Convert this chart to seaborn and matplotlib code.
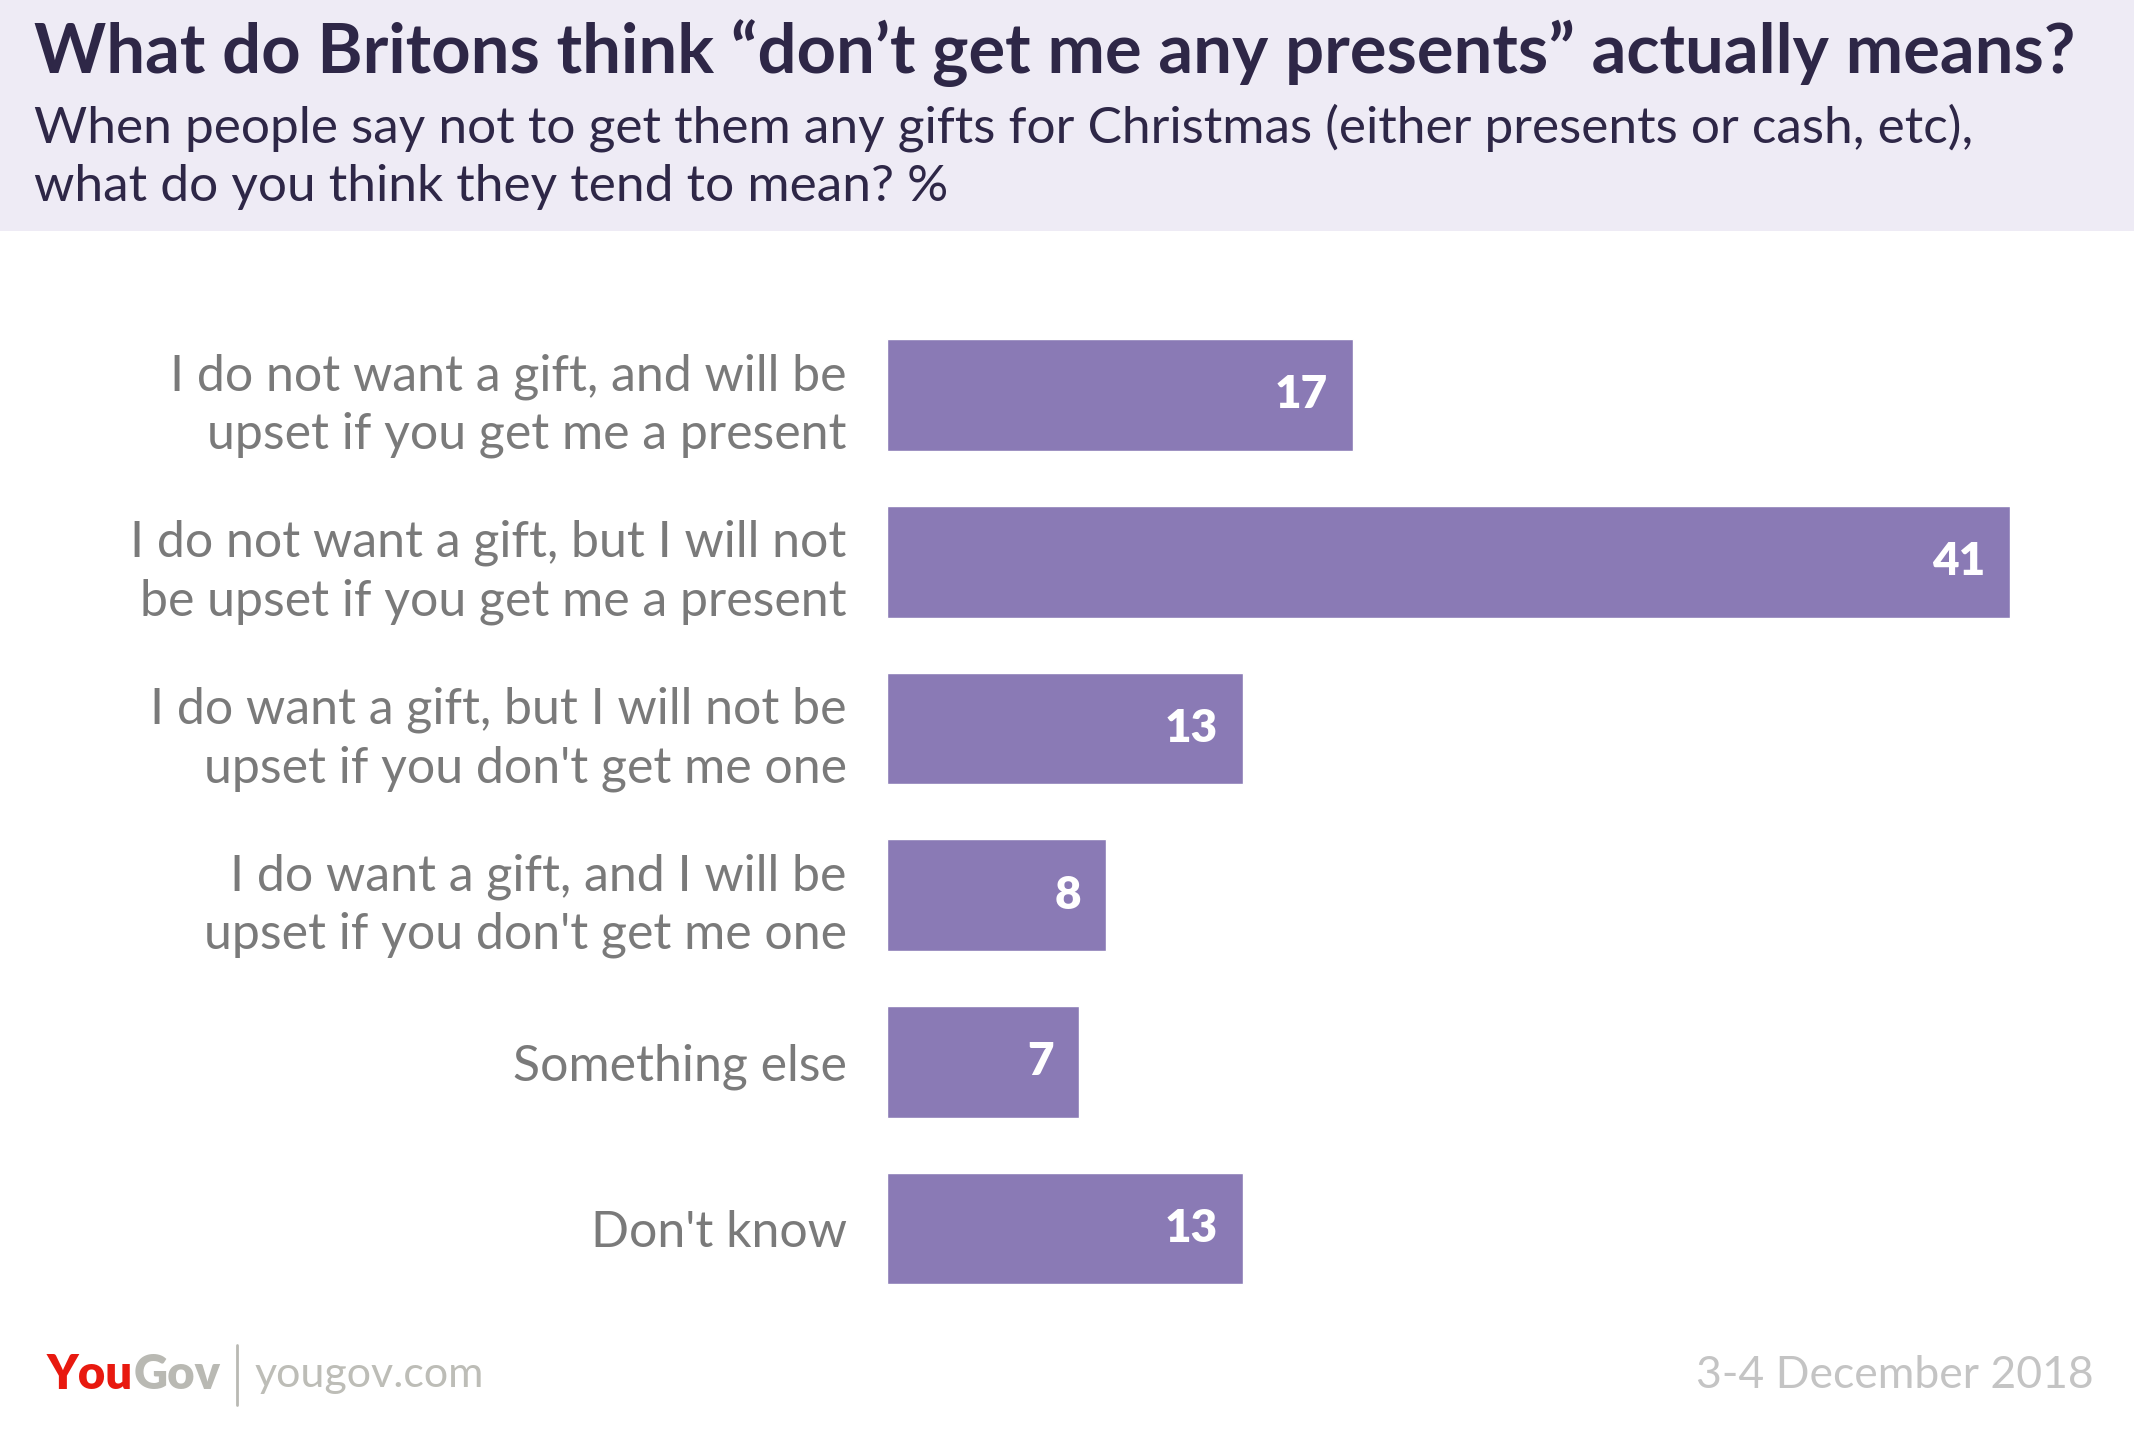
import matplotlib
matplotlib.use("Agg")
import matplotlib.pyplot as plt
from matplotlib.patches import Rectangle
from matplotlib.lines import Line2D
import pandas as pd
import seaborn as sns

# data
categories = [
    "I do not want a gift, and will be\nupset if you get me a present",
    "I do not want a gift, but I will not\nbe upset if you get me a present",
    "I do want a gift, but I will not be\nupset if you don't get me one",
    "I do want a gift, and I will be\nupset if you don't get me one",
    "Something else",
    "Don't know",
]
values = [17, 41, 13, 8, 7, 13]

title = "What do Britons think \u201cdon\u2019t get me any presents\u201d actually means?"
subtitle = ("When people say not to get them any gifts for Christmas (either presents or cash, etc),\n"
            "what do you think they tend to mean? %")
date_text = "3-4 December 2018"

df = pd.DataFrame({"answer": categories, "pct": values})

sns.set_style("white")
plt.rcParams["font.family"] = ["Lato", "DejaVu Sans"]

bar_col = "#8A7AB5"
dark = "#2E2747"
grey = "#7A7A7A"

fig = plt.figure(figsize=(21.34, 14.4), dpi=100)
fig.patch.set_facecolor("white")

# header band
fig.patches.append(Rectangle((0, 0.8396), 1, 0.1604, transform=fig.transFigure,
                             facecolor="#EEEBF5", edgecolor="none", zorder=0))
fig.text(0.016, 0.963, title, fontsize=49.5, fontweight="bold", color=dark, va="center", ha="left")
fig.text(0.016, 0.891, subtitle, fontsize=37, color=dark,
         va="center", ha="left", linespacing=1.32)

ax = fig.add_axes([0.4157, 0.0889, 0.9419 - 0.4157, 0.7836 - 0.0889])
sns.barplot(data=df, y="answer", x="pct", orient="h", color=bar_col, width=0.67,
            saturation=1, ax=ax)
ax.set_xlim(0, 41)
ax.set_ylim(5.5, -0.5)
ax.set_xlabel("")
ax.set_ylabel("")
ax.set_xticks([])
ax.tick_params(axis="y", length=0, pad=29, labelsize=36, labelcolor=grey)
for lab in ax.get_yticklabels():
    lab.set_ha("right")
    lab.set_linespacing(1.32)
for s in ax.spines.values():
    s.set_visible(False)

for i, v in enumerate(values):
    ax.annotate(str(v), (v, i), xytext=(-18, 0), textcoords="offset points",
                ha="right", va="center", fontsize=33, fontweight="heavy", color="white")

# footer
t1 = fig.text(0.022, 0.045, "You", fontsize=34, fontweight="heavy", color="#E8190F",
              va="center", ha="left")
fig.canvas.draw()
bb = t1.get_window_extent().transformed(fig.transFigure.inverted())
t2 = fig.text(bb.x1, 0.045, "Gov", fontsize=34, fontweight="heavy", color="#B9B9B3",
              va="center", ha="left")
fig.canvas.draw()
bb2 = t2.get_window_extent().transformed(fig.transFigure.inverted())
fig.add_artist(Line2D([bb2.x1 + 0.008, bb2.x1 + 0.008], [0.024, 0.066],
                      transform=fig.transFigure, color="#B9B9B3", lw=2))
fig.text(bb2.x1 + 0.016, 0.045, "yougov.com", fontsize=31,
         color="#BDBDB7", va="center", ha="left")
fig.text(0.981, 0.045, date_text, fontsize=32, color="#C4C4C4",
         va="center", ha="right")

fig.savefig("out.png", dpi=100, facecolor="white")
